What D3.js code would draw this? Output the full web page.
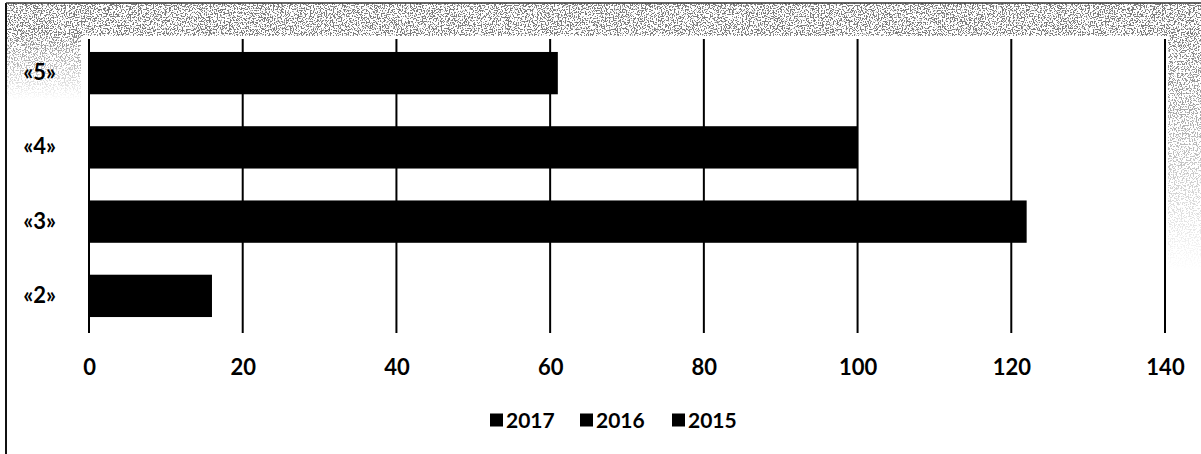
<!DOCTYPE html>
<html>
<head>
<meta charset="utf-8">
<script src="https://cdn.jsdelivr.net/npm/d3@7"></script>
<style>
  html, body { margin: 0; padding: 0; background: #fff; }
  svg { display: block; }
  text { font-family: Lato, "Open Sans", sans-serif; font-weight: bold; }
</style>
</head>
<body>
<div id="chart"></div>
<script>
let w = 1201,
    h = 454

// data
let categories = ['«5»', '«4»', '«3»', '«2»']
let values = [61, 100, 122, 16]
let xTicks = [0, 20, 40, 60, 80, 100, 120, 140]
let legendYears = ['2017', '2016', '2015']

let margin = { left: 89, right: 36, top: 36, bottom: 121 }

let svg = d3.select('#chart')
    .append('svg')
    .attr('width', w)
    .attr('height', h)

// scan texture filter
let defs = svg.append('defs')
let f = defs.append('filter').attr('id', 'speckle').attr('x', 0).attr('y', 0).attr('width', 1).attr('height', 1)
f.append('feTurbulence')
    .attr('type', 'fractalNoise')
    .attr('baseFrequency', 0.75)
    .attr('numOctaves', 3)
    .attr('seed', 7)
f.append('feColorMatrix')
    .attr('type', 'matrix')
    .attr('values', '0 0 0 0 0.2  0 0 0 0 0.2  0 0 0 0 0.2  0 0 0 -14 6.9')

let fadeX = defs.append('linearGradient').attr('id', 'fadeDown').attr('x1', 0).attr('y1', 0).attr('x2', 0).attr('y2', 1)
fadeX.append('stop').attr('offset', '0%').attr('stop-color', '#fff').attr('stop-opacity', 1)
fadeX.append('stop').attr('offset', '100%').attr('stop-color', '#fff').attr('stop-opacity', 0)
let m = defs.append('mask').attr('id', 'rightMask')
m.append('rect').attr('x', 1168).attr('y', 30).attr('width', 33).attr('height', 240).attr('fill', 'url(#fadeDown)')
let m2 = defs.append('mask').attr('id', 'leftMask')
m2.append('rect').attr('x', 6).attr('y', 30).attr('width', 75).attr('height', 70).attr('fill', 'url(#fadeDown)')

// top noisy band
svg.append('rect')
    .attr('x', 6).attr('y', 3).attr('width', w - 6).attr('height', 33)
    .attr('filter', 'url(#speckle)')
svg.append('g').attr('mask', 'url(#leftMask)')
    .append('rect')
    .attr('x', 6).attr('y', 30).attr('width', 75).attr('height', 70)
    .attr('filter', 'url(#speckle)')
// right noisy strip
svg.append('g').attr('mask', 'url(#rightMask)')
    .append('rect')
    .attr('x', 1168).attr('y', 30).attr('width', 33).attr('height', 240)
    .attr('filter', 'url(#speckle)')

// frame lines
svg.append('line')
    .attr('x1', 6).attr('x2', 6).attr('y1', 3).attr('y2', h)
    .attr('stroke', '#111').attr('stroke-width', 2)
svg.append('line')
    .attr('x1', 6).attr('x2', w).attr('y1', 3).attr('y2', 3)
    .attr('stroke', '#333').attr('stroke-width', 1.5)

let xScale = d3.scaleLinear()
    .domain([0, 140])
    .range([margin.left, w - margin.right])

let yScale = d3.scaleBand()
    .domain(categories)
    .range([margin.top, h - margin.bottom])
    .paddingInner(0.43)
    .paddingOuter(0.215)

// gridlines
svg.append('g')
    .selectAll('line')
    .data(xTicks)
    .enter()
    .append('line')
    .attr('x1', d => xScale(d))
    .attr('x2', d => xScale(d))
    .attr('y1', margin.top + 3)
    .attr('y2', h - margin.bottom)
    .attr('stroke', '#000')
    .attr('stroke-width', 2)

// bars
svg.append('g')
    .selectAll('rect')
    .data(values)
    .enter()
    .append('rect')
    .attr('x', xScale(0))
    .attr('y', (d, i) => yScale(categories[i]))
    .attr('width', d => xScale(d) - xScale(0))
    .attr('height', yScale.bandwidth())
    .attr('fill', '#000')

// x axis labels
let xAxisGen = d3.axisBottom(xScale)
    .tickValues(xTicks)
    .tickSize(0)
    .tickPadding(0)
let xAxis = svg.append('g')
    .attr('transform', `translate(0,${h - margin.bottom + 26})`)
    .call(xAxisGen)
xAxis.select('.domain').remove()
xAxis.selectAll('text')
    .attr('font-size', 22)
    .attr('font-family', 'Lato, "Open Sans", sans-serif')
    .attr('font-weight', 'bold')
    .attr('fill', '#000')

// category labels
let yAxisGen = d3.axisLeft(yScale).tickSize(0).tickPadding(0)
let yAxis = svg.append('g')
    .attr('transform', `translate(${margin.left - 33},0)`)
    .call(yAxisGen)
yAxis.select('.domain').remove()
yAxis.selectAll('text')
    .attr('font-size', 22)
    .attr('font-family', 'Lato, "Open Sans", sans-serif')
    .attr('font-weight', 'bold')
    .attr('fill', '#000')

// legend
let legendX = [490, 580, 672]
let legend = svg.append('g')
    .selectAll('g')
    .data(legendYears)
    .enter()
    .append('g')
    .attr('transform', (d, i) => `translate(${legendX[i]},420)`)
legend.append('rect')
    .attr('x', 0).attr('y', -6.5)
    .attr('width', 13).attr('height', 13)
    .attr('fill', '#000')
legend.append('text')
    .attr('x', 16)
    .attr('dy', '0.36em')
    .attr('font-size', 21)
    .attr('fill', '#000')
    .text(d => d)
</script>
</body>
</html>
